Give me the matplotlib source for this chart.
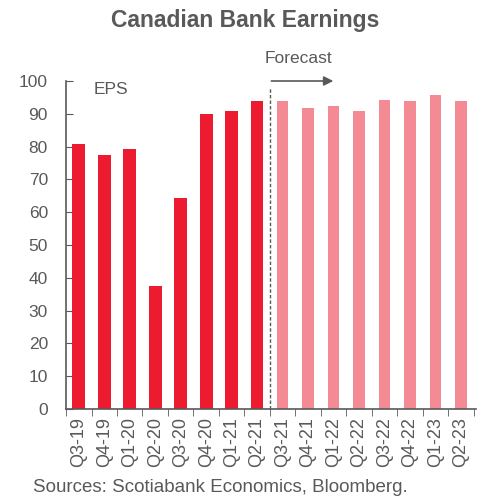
import matplotlib.pyplot as plt
import numpy as np

plt.rcParams['font.family'] = ['Liberation Sans', 'DejaVu Sans']

quarters = ['Q3-19', 'Q4-19', 'Q1-20', 'Q2-20', 'Q3-20', 'Q4-20', 'Q1-21', 'Q2-21',
            'Q3-21', 'Q4-21', 'Q1-22', 'Q2-22', 'Q3-22', 'Q4-22', 'Q1-23', 'Q2-23']
eps_actual = [80.8, 77.4, 79.3, 37.5, 64.3, 89.9, 90.9, 93.9]
eps_forecast = [94.0, 91.8, 92.4, 90.9, 94.2, 94.0, 95.7, 94.0]

grey = '#595959'
red = '#ED1B2F'
pink = '#F48B94'

fig = plt.figure(figsize=(4.82, 5.0), dpi=100)
ax = fig.add_axes([0.137, 0.182, 0.851, 0.656])

n_act = len(eps_actual)
x_act = np.arange(n_act)
x_fc = np.arange(n_act, n_act + len(eps_forecast))
ax.bar(x_act, eps_actual, width=0.5, color=red, zorder=2)
ax.bar(x_fc, eps_forecast, width=0.45, color=pink, zorder=2)

ax.set_ylim(0, 100)
ax.set_xlim(-0.45, 15.6)
ax.set_yticks(range(0, 101, 10))
ax.set_xticks(np.arange(len(quarters)))
ax.set_xticklabels(quarters, rotation=90)
ax.set_xticks(np.arange(-0.5, len(quarters), 1), minor=True)
ax.tick_params(axis='x', which='major', length=0, pad=6, labelsize=13, labelcolor=grey)
ax.tick_params(axis='x', which='minor', length=5, direction='out', color=grey)
ax.tick_params(axis='y', length=5, direction='in', color=grey, labelsize=12.5,
               labelcolor=grey, pad=13)

for s in ['top', 'right']:
    ax.spines[s].set_visible(False)
for s in ['left', 'bottom']:
    ax.spines[s].set_color(grey)
    ax.spines[s].set_linewidth(1.2)

# forecast divider
split = n_act - 0.5
ax.plot([split, split], [0, 98], ls=(0, (2.5, 1.5)), color=grey, lw=1, clip_on=False, zorder=3)
ax.annotate('', xy=(split + 2.6, 100), xytext=(split - 0.05, 100),
            arrowprops=dict(arrowstyle='-|>', color=grey, lw=1.2, mutation_scale=14),
            annotation_clip=False)
ax.text(split - 0.2, 104.5, 'Forecast', fontsize=12.5, color=grey, ha='left', va='bottom')
ax.text(0.6, 97.5, 'EPS', fontsize=12.5, color=grey, ha='left', va='center')

fig.text(0.508, 0.96, 'Canadian Bank Earnings', fontsize=16.5, fontweight='bold',
         color=grey, ha='center', va='center')
fig.text(0.068, 0.026, 'Sources: Scotiabank Economics, Bloomberg.', fontsize=13.5,
         color=grey, ha='left', va='center')

fig.savefig('out.png', dpi=100)
